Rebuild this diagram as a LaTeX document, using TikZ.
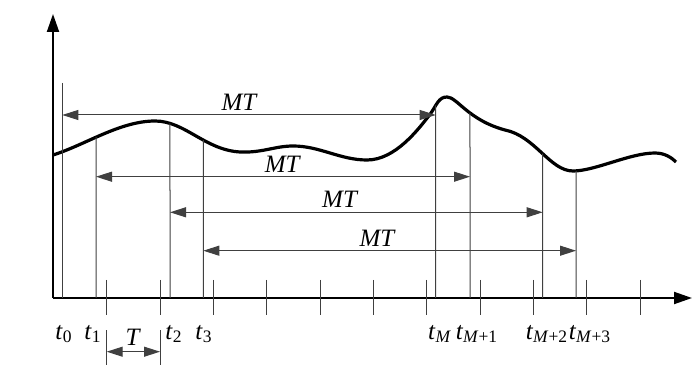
\documentclass[tikz,border=0pt]{standalone}
\usepackage{fontspec}
\setmainfont{Liberation Serif}
\usetikzlibrary{arrows.meta,intersections}
\tikzset{>={Triangle[length=8pt,width=5pt]},
	axis/.style={line width=1pt,-{Triangle[length=9pt,width=6pt]}},
	signal/.style={line width=1.6pt,line join=round},
	sline/.style={line width=0.5pt,draw=black!75},
	dim/.style={line width=0.5pt,draw=black!75,<->},
	tlabel/.style={inner sep=1pt,font=\fontsize{12.5}{14}\selectfont}}
\newcommand{\tsub}[1]{\textit{t}\textsubscript{#1}}
\newcommand{\Msub}[1]{\textit{M}#1}
\begin{document}
\begin{tikzpicture}[x=0.5pt,y=-0.5pt]
	\useasboundingbox (0,0) rectangle (700,373);
	% axes
	\coordinate (O) at (53,298);
	\coordinate (Y) at (53,14);
	\coordinate (X) at (692,298);
	\draw[axis] (O) -- (Y);
	\draw[axis] (O) -- (X);
	% signal
	\draw[signal,name path=sig] (53,155) .. controls (85,145) and (120,121) .. (155,121)
		.. controls (185,121) and (205,150) .. (240,152)
		.. controls (262,153) and (275,146) .. (293,146)
		.. controls (320,146) and (340,160) .. (367,160)
		.. controls (395,160) and (418,130) .. (431,113)
		.. controls (437,104) and (439,97) .. (447,97)
		.. controls (457,97) and (468,120) .. (505,130)
		.. controls (535,136) and (550,171) .. (573,171)
		.. controls (595,171) and (630,153) .. (655,153)
		.. controls (665,153) and (672,158) .. (676,162);
	% sampling instants
	\path[name path=v1] (96,0) -- (96,298);
	\path[name path=v2] (170,0) -- (170,298);
	\path[name path=v3] (203.3,0) -- (203.3,298);
	\path[name path=vM] (435.7,0) -- (435.7,298);
	\path[name path=vM1] (470,0) -- (470,298);
	\path[name path=vM2] (542.7,0) -- (542.7,298);
	\path[name path=vM3] (576,0) -- (576,298);
	\path[name intersections={of=sig and v1,by=t1a}];
	\path[name intersections={of=sig and v2,by=t2a}];
	\path[name intersections={of=sig and v3,by=t3a}];
	\path[name intersections={of=sig and vM,by=tMa}];
	\path[name intersections={of=sig and vM1,by=tM1a}];
	\path[name intersections={of=sig and vM2,by=tM2a}];
	\path[name intersections={of=sig and vM3,by=tM3a}];
	\coordinate (t0a) at (62.3,83);
	\coordinate (t0) at (62.3,298);
	\coordinate (t1) at (96,298);
	\coordinate (t2) at (170,298);
	\coordinate (t3) at (203.3,298);
	\coordinate (tM) at (435.7,298);
	\coordinate (tM1) at (470,298);
	\coordinate (tM2) at (542.7,298);
	\coordinate (tM3) at (576,298);
	\draw[sline] (t0a) -- (t0);
	\draw[sline] (t1a) -- (t1);
	\draw[sline] (t2a) -- (t2);
	\draw[sline] (t3a) -- (t3);
	\draw[sline] (tMa) -- (tM);
	\draw[sline] (tM1a) -- (tM1);
	\draw[sline] (tM2a) -- (tM2);
	\draw[sline] (tM3a) -- (tM3);
	% windows of length MT
	\coordinate (w1a) at (62.3,115);
	\coordinate (w1b) at (435.7,115);
	\coordinate (w2a) at (96,176.7);
	\coordinate (w2b) at (470,176.7);
	\coordinate (w3a) at (170,212.3);
	\coordinate (w3b) at (542.7,212.3);
	\coordinate (w4a) at (203.3,250.7);
	\coordinate (w4b) at (576,250.7);
	\draw[dim] (w1a) -- node[tlabel,above=1pt,pos=0.475] (mt1) {\textit{MT}} (w1b);
	\draw[dim] (w2a) -- node[tlabel,above=1pt,pos=0.5] (mt2) {\textit{MT}} (w2b);
	\draw[dim] (w3a) -- node[tlabel,above=1pt,pos=0.457] (mt3) {\textit{MT}} (w3b);
	\draw[dim] (w4a) -- node[tlabel,above=1pt,pos=0.468] (mt4) {\textit{MT}} (w4b);
	% ticks
	\draw[sline] (106.7,280) -- (106.7,315);
	\draw[sline] (160,280) -- (160,315);
	\draw[sline] (213.3,280) -- (213.3,315);
	\draw[sline] (266.7,280) -- (266.7,315);
	\draw[sline] (320,280) -- (320,315);
	\draw[sline] (373.3,280) -- (373.3,315);
	\draw[sline] (426.7,280) -- (426.7,315);
	\draw[sline] (480,280) -- (480,315);
	\draw[sline] (533.3,280) -- (533.3,315);
	\draw[sline] (586.7,280) -- (586.7,315);
	\draw[sline] (640,280) -- (640,315);
	% period T
	\coordinate (Ta) at (106.7,351.7);
	\coordinate (Tb) at (160,351.7);
	\draw[sline] (106.7,330) -- (106.7,365);
	\draw[sline] (160,330) -- (160,365);
	\draw[dim] (Ta) -- node[tlabel,above=2pt] (T) {\textit{T}} (Tb);
	% labels
	\node[tlabel] (l0) at (64,334) {\tsub{0}};
	\node[tlabel] (l1) at (93,334) {\tsub{1}};
	\node[tlabel] (l2) at (174,334) {\tsub{2}};
	\node[tlabel] (l3) at (204,334) {\tsub{3}};
	\node[tlabel] (lM) at (440,334) {\tsub{\textit{M}}};
	\node[tlabel] (lM1) at (477,334) {\tsub{\Msub{+1}}};
	\node[tlabel] (lM2) at (547,334) {\tsub{\Msub{+2}}};
	\node[tlabel] (lM3) at (590,334) {\tsub{\Msub{+3}}};
\end{tikzpicture}
\end{document}
